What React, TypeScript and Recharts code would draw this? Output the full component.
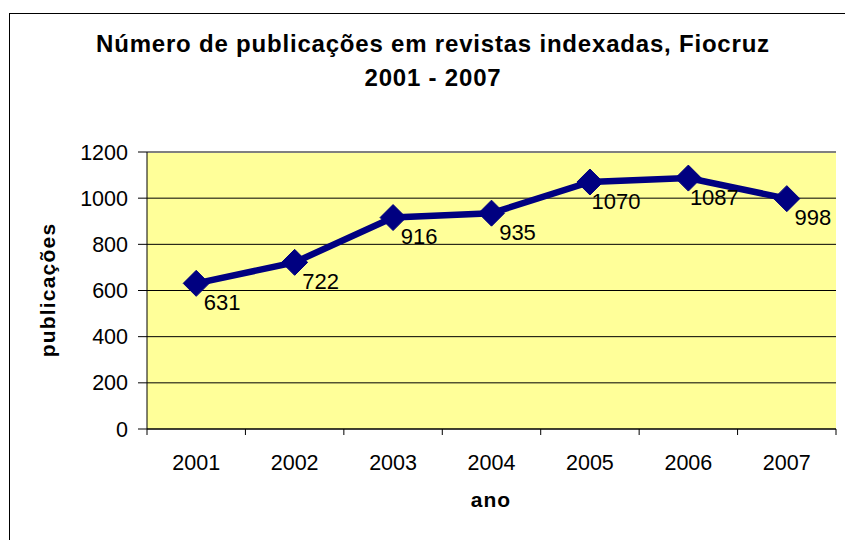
import React from 'react';
import { LineChart, Line, XAxis, YAxis, CartesianGrid, LabelList, ReferenceLine } from 'recharts';

const years = ['2001', '2002', '2003', '2004', '2005', '2006', '2007'];
const publications = [631, 722, 916, 935, 1070, 1087, 998];
const yTicks = [0, 200, 400, 600, 800, 1000, 1200];
const titleLines = ['Número de publicações em revistas indexadas, Fiocruz', '2001 - 2007'];
const xTitle = 'ano';
const yTitle = 'publicações';

const data = years.map((year, i) => ({ pos: i + 0.5, year, value: publications[i] }));
const xTicks = Array.from({ length: years.length * 2 + 1 }, (_, i) => i / 2);
const yMax = yTicks[yTicks.length - 1];

const FONT = '"Liberation Sans", Arial, sans-serif';
const NAVY = '#000080';

const XTick = (props: any) => {
  const { x, y, payload } = props;
  const v = payload.value as number;
  if (Number.isInteger(v)) {
    return <line x1={x} x2={x} y1={y} y2={y + 6} stroke="#000" strokeWidth={1} />;
  }
  return (
    <text x={x} y={y + 41} textAnchor="middle" fontSize={21.5} fontFamily={FONT} fill="#000">
      {years[Math.floor(v)]}
    </text>
  );
};

const Diamond = (props: any) => {
  const { cx, cy } = props;
  if (cx == null || cy == null) return null;
  const r = 13;
  return (
    <polygon
      points={`${cx},${cy - r} ${cx + r},${cy} ${cx},${cy + r} ${cx - r},${cy}`}
      fill={NAVY}
      stroke={NAVY}
    />
  );
};

const ValueLabel = (props: any) => {
  const { x, y, value } = props;
  return (
    <text
      x={x + 26}
      y={y + 19}
      textAnchor="middle"
      dominantBaseline="central"
      fontSize={22}
      fontFamily={FONT}
      fill="#000"
    >
      {value}
    </text>
  );
};

export default function App() {
  return (
    <div
      style={{
        position: 'absolute',
        left: 0,
        top: 0,
        width: 845,
        height: 540,
        overflow: 'hidden',
        background: '#fff',
        fontFamily: FONT,
      }}
    >
      <div
        style={{
          position: 'absolute',
          left: 9,
          top: 13,
          width: 848,
          height: 560,
          border: '1px solid #000',
          boxSizing: 'border-box',
        }}
      />
      <div
        style={{
          position: 'absolute',
          left: 0,
          top: 27,
          width: 866,
          textAlign: 'center',
          fontWeight: 'bold',
          fontSize: 24,
          letterSpacing: 0.8,
          lineHeight: '34px',
          color: '#000',
        }}
      >
        {titleLines.map((t) => (
          <div key={t}>{t}</div>
        ))}
      </div>
      <div
        style={{
          position: 'absolute',
          left: 48,
          top: 290,
          transform: 'translate(-50%, -50%) rotate(-90deg)',
          whiteSpace: 'nowrap',
          fontWeight: 'bold',
          fontSize: 21,
          letterSpacing: 1.2,
          color: '#000',
        }}
      >
        {yTitle}
      </div>
      <div
        style={{
          position: 'absolute',
          left: 491,
          top: 500,
          transform: 'translate(-50%, -50%)',
          whiteSpace: 'nowrap',
          fontWeight: 'bold',
          fontSize: 21,
          letterSpacing: 1,
          color: '#000',
        }}
      >
        {xTitle}
      </div>
      <div style={{ position: 'absolute', left: 0, top: 0 }}>
        <LineChart
          width={845}
          height={540}
          data={data}
          margin={{ top: 152, right: 9, left: 0, bottom: 0 }}
        >
          <CartesianGrid
            yAxisId="l"
            vertical={false}
            stroke="#000"
            strokeWidth={1}
            fill="#FFFF99"
            fillOpacity={1}
          />
          <XAxis
            dataKey="pos"
            type="number"
            domain={[0, years.length]}
            ticks={xTicks}
            interval={0}
            height={111}
            tickLine={false}
            tickSize={0}
            tickMargin={0}
            axisLine={{ stroke: '#000', strokeWidth: 1 }}
            tick={<XTick />}
            allowDecimals
          />
          <YAxis
            yAxisId="l"
            domain={[0, yMax]}
            ticks={yTicks}
            interval={0}
            width={147}
            tickSize={9}
            tickMargin={10}
            axisLine={{ stroke: '#000', strokeWidth: 1 }}
            tickLine={{ stroke: '#000', strokeWidth: 1 }}
            tick={{ fontSize: 21.5, fill: '#000', fontFamily: FONT }}
          />
          <YAxis
            yAxisId="r"
            orientation="right"
            domain={[0, yMax]}
            width={0}
            tick={false}
            tickLine={false}
            axisLine={{ stroke: '#808080', strokeWidth: 2 }}
          />
          <ReferenceLine yAxisId="l" y={yMax} stroke="#808080" strokeWidth={2} />
          <Line
            yAxisId="l"
            dataKey="value"
            type="linear"
            stroke={NAVY}
            strokeWidth={6.5}
            dot={<Diamond />}
            activeDot={false}
            isAnimationActive={false}
          >
            <LabelList dataKey="value" content={<ValueLabel />} />
          </Line>
        </LineChart>
      </div>
    </div>
  );
}
